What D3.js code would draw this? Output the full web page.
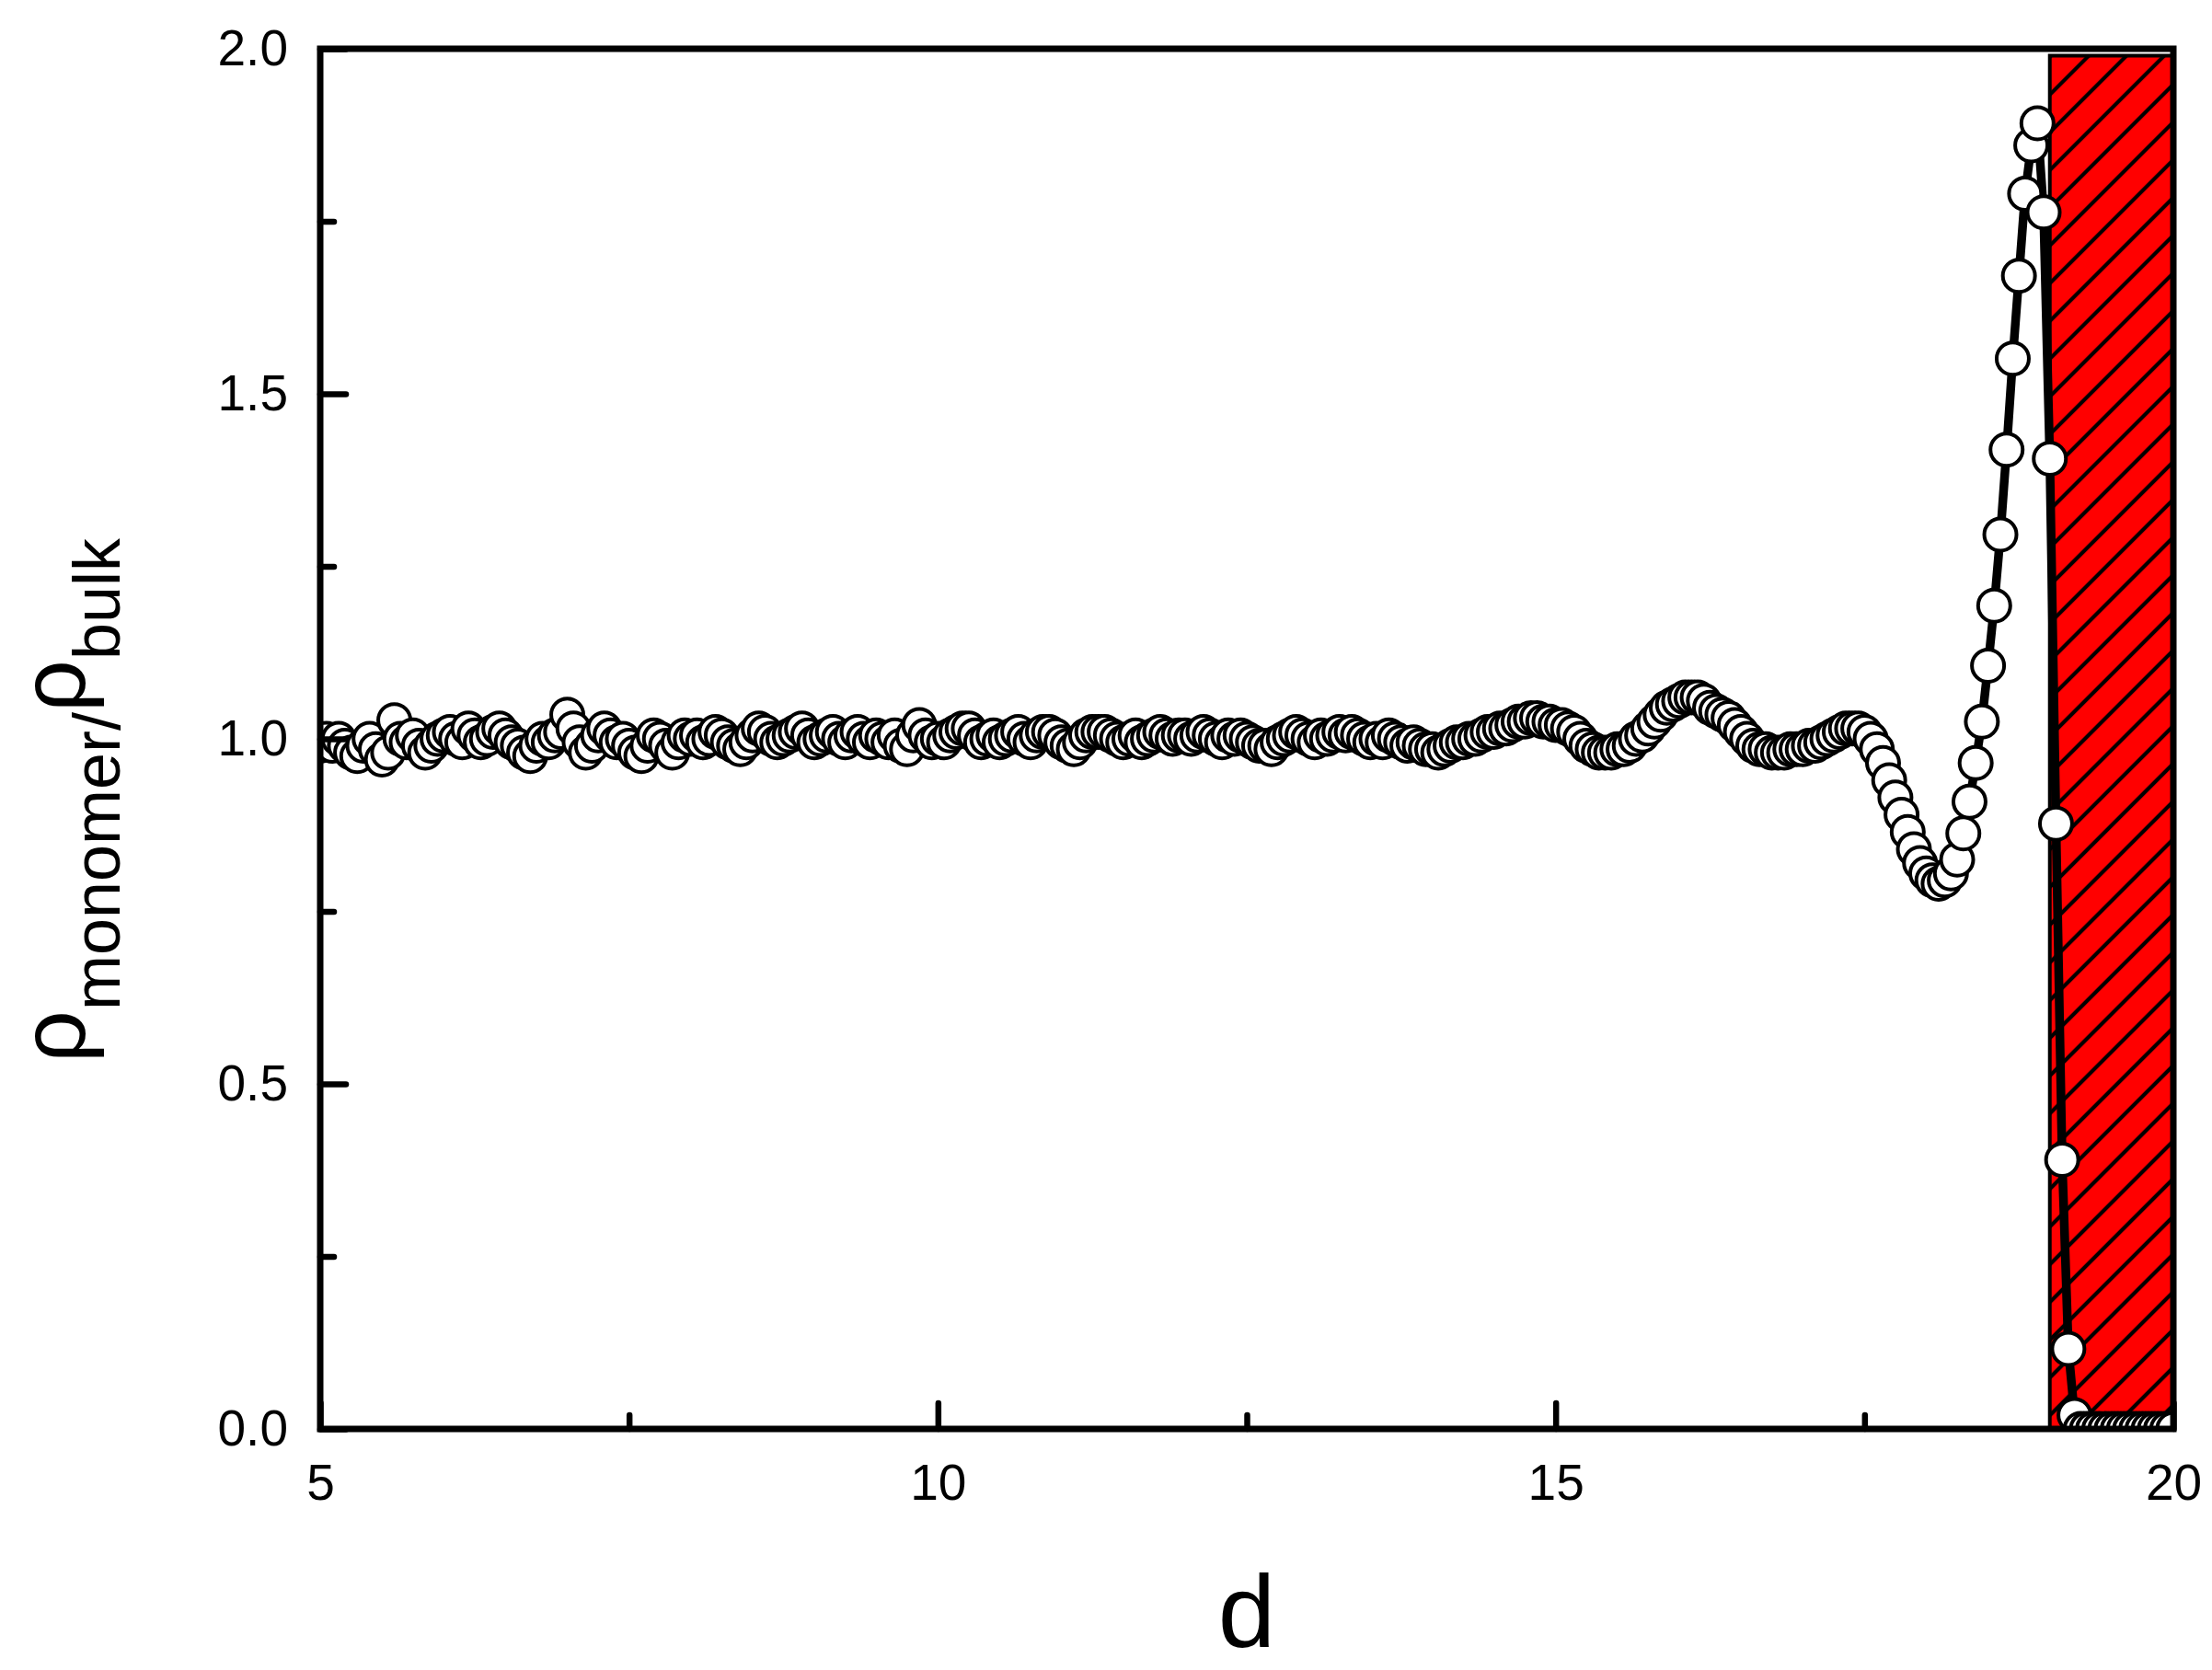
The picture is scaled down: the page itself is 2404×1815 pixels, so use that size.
<!DOCTYPE html>
<html>
<head>
<meta charset="utf-8">
<script src="https://cdn.jsdelivr.net/npm/d3@7"></script>
<style>
  html, body { margin: 0; padding: 0; background: #fff; }
  svg { display: block; }
  text { font-family: "Liberation Sans", Arial, sans-serif; fill: #000; }
</style>
</head>
<body>
<svg id="chart" width="2404" height="1815"></svg>
<script>
// ---------- data ----------
const xStart = 5, xStep = 0.05;           // sampling grid of d
// rho_monomer / rho_bulk, one row per unit of d
const rho05 = [0.99,1.00,0.99,1.00,0.99,0.98,0.975,0.99,1.00,0.985,0.97,0.98,1.027,1.00,0.995,1.005,0.99,0.98,0.99,1.00];
const rho06 = [1.005,1.01,1.00,0.995,1.015,1.005,0.995,1.00,1.01,1.015,1.005,0.995,0.99,0.98,0.975,0.99,1.00,0.995,1.005,1.01];
const rho07 = [1.035,1.015,0.995,0.98,0.99,1.005,1.015,1.005,0.995,1.00,0.99,0.98,0.975,0.99,1.005,1.00,0.99,0.98,0.995,1.005];
const rho08 = [1.00,1.005,0.995,1.00,1.01,1.005,0.995,0.99,0.985,0.995,1.005,1.015,1.01,1.00,0.995,1.00,1.005,1.01,1.015,1.005];
const rho09 = [0.995,1.00,1.005,1.01,1.00,0.995,1.005,1.01,1.00,0.995,1.005,1.00,0.995,1.005,0.99,0.985,1.005,1.02,1.005,0.995];
const rho10 = [1.00,0.995,1.005,1.01,1.015,1.015,1.005,0.995,1.00,1.005,0.995,1.00,1.005,1.01,1.00,0.995,1.005,1.01,1.01,1.005];
const rho11 = [0.995,0.99,0.985,0.995,1.005,1.01,1.01,1.01,1.005,1.00,0.995,1.00,1.005,0.995,1.00,1.005,1.01,1.005,1.00,1.005];
const rho12 = [1.005,1.00,1.005,1.01,1.005,1.00,0.995,1.005,1.00,1.005,1.00,0.995,0.99,0.99,0.985,0.995,1.00,1.005,1.01,1.005];
const rho13 = [1.00,0.995,1.005,1.00,1.005,1.01,1.005,1.01,1.005,1.00,0.995,1.00,0.995,1.005,1.00,0.995,0.99,0.995,0.99,0.985];
const rho14 = [0.985,0.98,0.985,0.99,0.995,0.995,1.00,1.00,1.005,1.01,1.01,1.015,1.015,1.02,1.025,1.025,1.03,1.03,1.025,1.025];
const rho15 = [1.02,1.02,1.015,1.01,1.00,0.99,0.985,0.98,0.98,0.98,0.985,0.985,0.99,1.00,1.005,1.015,1.025,1.035,1.045,1.05];
const rho16 = [1.055,1.06,1.06,1.06,1.055,1.045,1.04,1.035,1.03,1.02,1.01,1.00,0.99,0.985,0.985,0.98,0.98,0.98,0.985,0.985];
const rho17 = [0.985,0.99,0.99,0.995,1.00,1.005,1.01,1.015,1.015,1.015,1.01,1.00,0.985,0.965,0.94,0.915,0.89,0.865,0.84,0.82];
const rho18 = [0.805,0.795,0.79,0.795,0.805,0.825,0.863,0.909,0.965,1.025,1.106,1.193,1.296,1.419,1.551,1.671,1.790,1.860,1.892,1.763];
const rho19 = [1.406,0.877,0.39,0.116,0.02,0,0,0,0,0,0,0,0,0,0,0,0,0,0,0,0];
const rhoValues = [].concat(rho05,rho06,rho07,rho08,rho09,rho10,rho11,rho12,rho13,rho14,rho15,rho16,rho17,rho18,rho19);

// wall region (hatched)
const wallStart = 19, wallEnd = 20, wallTop = 1.99;

// axes
const xDomain = [5, 20], yDomain = [0, 2];
const xMajorTicks = [5, 10, 15, 20], xMinorTicks = [7.5, 12.5, 17.5];
const yMajorTicks = [0, 0.5, 1.0, 1.5, 2.0], yMinorTicks = [0.25, 0.75, 1.25, 1.75];
const xTitle = "d";

// ---------- drawing ----------
const L = 348, R = 2362, T = 53, B = 1553;
const svg = d3.select("#chart");
const x = d3.scaleLinear().domain(xDomain).range([L, R]);
const y = d3.scaleLinear().domain(yDomain).range([B, T]);

const points = rhoValues.map((v, i) => ({ d: xStart + i * xStep, v }));

const defs = svg.append("defs");
defs.append("clipPath").attr("id", "plotClip")
  .append("rect").attr("x", L).attr("y", T).attr("width", R - L).attr("height", B - T);

const pat = defs.append("pattern").attr("id", "hatch")
  .attr("patternUnits", "userSpaceOnUse")
  .attr("width", 29).attr("height", 29)
  .attr("patternTransform", "rotate(45)");
pat.append("rect").attr("width", 29).attr("height", 29).attr("fill", "#ff0000");
pat.append("line").attr("x1", 24).attr("x2", 24).attr("y1", -2).attr("y2", 31)
  .attr("stroke", "#000").attr("stroke-width", 4.2);

// wall rect
svg.append("rect")
  .attr("x", x(wallStart)).attr("y", y(wallTop))
  .attr("width", x(wallEnd) - x(wallStart)).attr("height", y(0) - y(wallTop))
  .attr("fill", "url(#hatch)").attr("stroke", "#000").attr("stroke-width", 4);

const gData = svg.append("g").attr("clip-path", "url(#plotClip)");
gData.append("path")
  .datum(points)
  .attr("d", d3.line().x(p => x(p.d)).y(p => y(p.v)))
  .attr("fill", "none").attr("stroke", "#000").attr("stroke-width", 9.5)
  .attr("stroke-linejoin", "round");
gData.selectAll("circle").data(points).join("circle")
  .attr("cx", p => x(p.d)).attr("cy", p => y(p.v)).attr("r", 17.5)
  .attr("fill", "#fff").attr("stroke", "#000").attr("stroke-width", 4);

// axes
const fs = 55;
const gx = svg.append("g").attr("transform", `translate(0,${B})`)
  .call(d3.axisBottom(x).tickValues(xMajorTicks).tickFormat(d3.format("d"))
    .tickSizeInner(-28).tickSizeOuter(0).tickPadding(38));
const gxm = svg.append("g").attr("transform", `translate(0,${B})`)
  .call(d3.axisBottom(x).tickValues(xMinorTicks).tickFormat("")
    .tickSizeInner(-15).tickSizeOuter(0));
const gy = svg.append("g").attr("transform", `translate(${L},0)`)
  .call(d3.axisLeft(y).tickValues(yMajorTicks).tickFormat(d3.format(".1f"))
    .tickSizeInner(-28).tickSizeOuter(0).tickPadding(35));
const gym = svg.append("g").attr("transform", `translate(${L},0)`)
  .call(d3.axisLeft(y).tickValues(yMinorTicks).tickFormat("")
    .tickSizeInner(-15).tickSizeOuter(0));
[gx, gxm, gy, gym].forEach(g => {
  g.select(".domain").remove();
  g.selectAll(".tick line").attr("stroke", "#000").attr("stroke-width", 6.5).attr("stroke-linecap", "round");
  g.selectAll(".tick text").attr("font-size", fs).attr("font-family", "Liberation Sans, Arial, sans-serif").attr("fill", "#000");
});

// frame
svg.append("rect").attr("x", L).attr("y", T).attr("width", R - L).attr("height", B - T)
  .attr("fill", "none").attr("stroke", "#000").attr("stroke-width", 7);

// titles
svg.append("text").attr("x", (L + R) / 2).attr("y", 1790)
  .attr("text-anchor", "middle").attr("font-size", 112).text(xTitle);

const yt = svg.append("text").attr("transform", "translate(92,870) rotate(-90)")
  .attr("text-anchor", "middle");
yt.append("tspan").attr("font-size", 100).text("ρ");
yt.append("tspan").attr("font-size", 72).attr("dy", 38).text("monomer/");
yt.append("tspan").attr("font-size", 100).attr("dy", -38).text("ρ");
yt.append("tspan").attr("font-size", 72).attr("dy", 38).text("bulk");
</script>
</body>
</html>
